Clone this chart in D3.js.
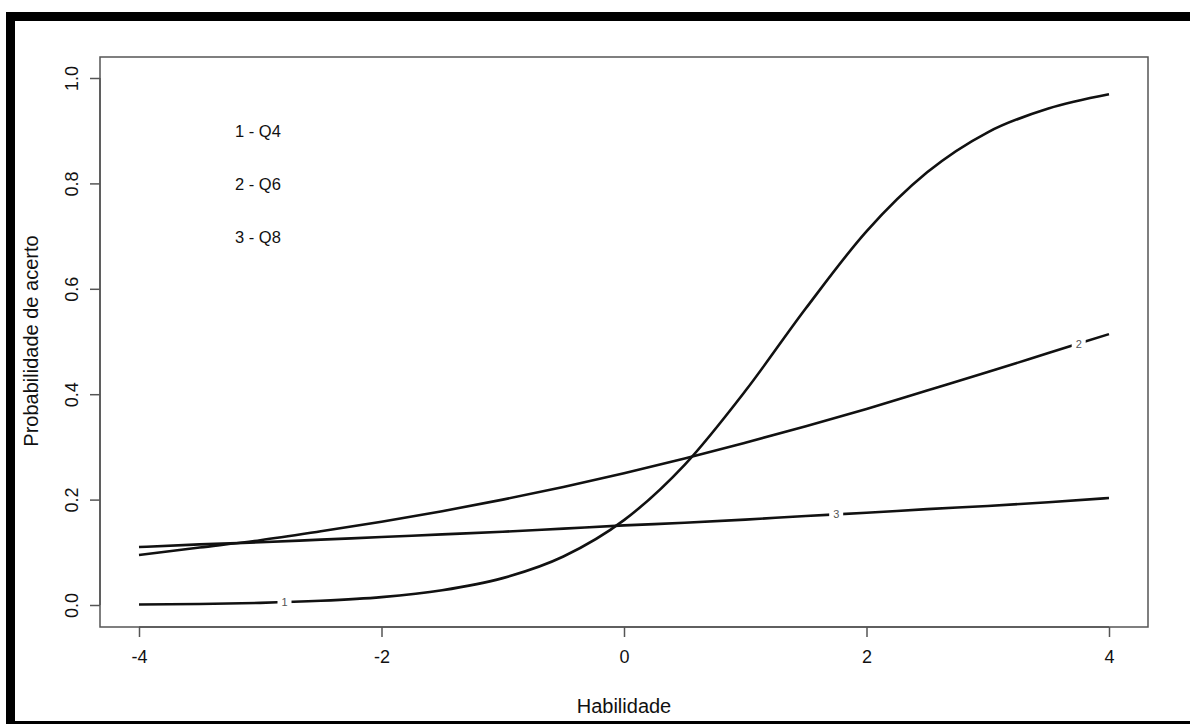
<!DOCTYPE html>
<html>
<head>
<meta charset="utf-8">
<script src="https://cdn.jsdelivr.net/npm/d3@7"></script>
<style>
  body { margin: 0; background: #fff; }
  svg { display: block; font-family: 'Liberation Sans', Arial, sans-serif; }
</style>
</head>
<body>
<div id="chart"></div>
<script>
// Data
const theta = [-4, -3.5, -3, -2.5, -2, -1.5, -1, -0.5, 0, 0.5, 1, 1.5, 2, 2.5, 3, 3.5, 4]
const q4 = [0.001, 0.002, 0.004, 0.008, 0.015, 0.028, 0.051, 0.092, 0.161, 0.266, 0.406, 0.563, 0.709, 0.821, 0.897, 0.942, 0.969]
const q6 = [0.095, 0.109, 0.123, 0.140, 0.158, 0.178, 0.200, 0.224, 0.250, 0.278, 0.308, 0.339, 0.372, 0.407, 0.442, 0.478, 0.514]
const q8 = [0.110, 0.115, 0.119, 0.124, 0.129, 0.134, 0.139, 0.145, 0.151, 0.156, 0.162, 0.169, 0.175, 0.182, 0.188, 0.195, 0.203]
const xTicks = [-4, -2, 0, 2, 4]
const yTicks = [0, 0.2, 0.4, 0.6, 0.8, 1.0]
const legendLabels = ['1 - Q4', '2 - Q6', '3 - Q8']
const curveLabels = [
  { name: '1', values: q4, at: -2.8 },
  { name: '2', values: q6, at: 3.75 },
  { name: '3', values: q8, at: 1.75 }
]

const W = 1190
const H = 724
const font = "'Liberation Sans', Arial, sans-serif"

const svg = d3.select('#chart').append('svg')
  .attr('width', W)
  .attr('height', H)

// Black frame
svg.append('rect').attr('x', 6).attr('y', 12).attr('width', W - 6).attr('height', 9).attr('fill', '#000')
svg.append('rect').attr('x', 6).attr('y', 12).attr('width', 9).attr('height', H - 12).attr('fill', '#000')
svg.append('rect').attr('x', 6).attr('y', 721).attr('width', W - 6).attr('height', 3).attr('fill', '#000')

// Scales
const x = d3.scaleLinear().domain([-4, 4]).range([139, 1109])
const y = d3.scaleLinear().domain([0, 1]).range([605, 78])

// Plot box
svg.append('rect')
  .attr('x', 100).attr('y', 57)
  .attr('width', 1048).attr('height', 570)
  .attr('fill', 'none')
  .attr('stroke', '#555')
  .attr('stroke-width', 1.5)

// Axes
const xAxis = d3.axisBottom(x).tickValues(xTicks).tickSize(10).tickPadding(13)
  .tickFormat(d => d)
const gx = svg.append('g').attr('transform', 'translate(0,627)').call(xAxis)
gx.attr('font-size', 18).attr('font-family', font)
gx.select('.domain').attr('stroke', '#555').attr('stroke-width', 1.5)
  .attr('d', `M${x(-4)},0H${x(4)}`)
gx.selectAll('.tick line').attr('stroke', '#555').attr('stroke-width', 1.5)
gx.selectAll('.tick text').attr('fill', '#111')

const yAxis = d3.axisLeft(y).tickValues(yTicks).tickSize(10)
  .tickFormat(d3.format('.1f'))
const gy = svg.append('g').attr('transform', 'translate(100,0)').call(yAxis)
gy.attr('font-size', 18).attr('font-family', font)
gy.select('.domain').attr('stroke', '#555').attr('stroke-width', 1.5)
  .attr('d', `M0,${y(0)}V${y(1)}`)
gy.selectAll('.tick line').attr('stroke', '#555').attr('stroke-width', 1.5)
gy.selectAll('.tick text')
  .attr('fill', '#111')
  .attr('x', null).attr('dy', null)
  .attr('text-anchor', 'middle')
  .attr('transform', 'translate(-27,0) rotate(-90)')
  .attr('y', 5)

// Curves
const line = d3.line()
  .x((d, i) => x(theta[i]))
  .y(d => y(d))
  .curve(d3.curveMonotoneX)

svg.selectAll('path.curve')
  .data([q4, q6, q8])
  .enter()
  .append('path')
  .attr('class', 'curve')
  .attr('d', d => line(d))
  .attr('fill', 'none')
  .attr('stroke', '#111')
  .attr('stroke-width', 2.6)

// Inline curve labels with a gap
function valueAt(values, t) {
  const i = Math.min(theta.length - 2, Math.floor((t - theta[0]) / 0.5))
  const f = (t - theta[i]) / (theta[i + 1] - theta[i])
  return values[i] + f * (values[i + 1] - values[i])
}

curveLabels.forEach(c => {
  const cx = x(c.at)
  const cy = y(valueAt(c.values, c.at))
  svg.append('rect')
    .attr('x', cx - 7).attr('y', cy - 6)
    .attr('width', 14).attr('height', 12)
    .attr('fill', '#fff')
  svg.append('text')
    .attr('x', cx).attr('y', cy + 4)
    .attr('text-anchor', 'middle')
    .attr('font-size', 11)
    .attr('fill', '#555')
    .text(c.name)
})

// Legend text
svg.selectAll('text.legend')
  .data(legendLabels)
  .enter()
  .append('text')
  .attr('class', 'legend')
  .attr('x', 235)
  .attr('y', (d, i) => 137 + i * 53)
  .attr('font-size', 16.5)
  .attr('fill', '#111')
  .text(d => d)

// Axis titles
svg.append('text')
  .attr('x', 624).attr('y', 713)
  .attr('text-anchor', 'middle')
  .attr('font-size', 20)
  .attr('fill', '#111')
  .text('Habilidade')

svg.append('text')
  .attr('transform', 'translate(38,341) rotate(-90)')
  .attr('text-anchor', 'middle')
  .attr('font-size', 20)
  .attr('fill', '#111')
  .text('Probabilidade de acerto')
</script>
</body>
</html>
